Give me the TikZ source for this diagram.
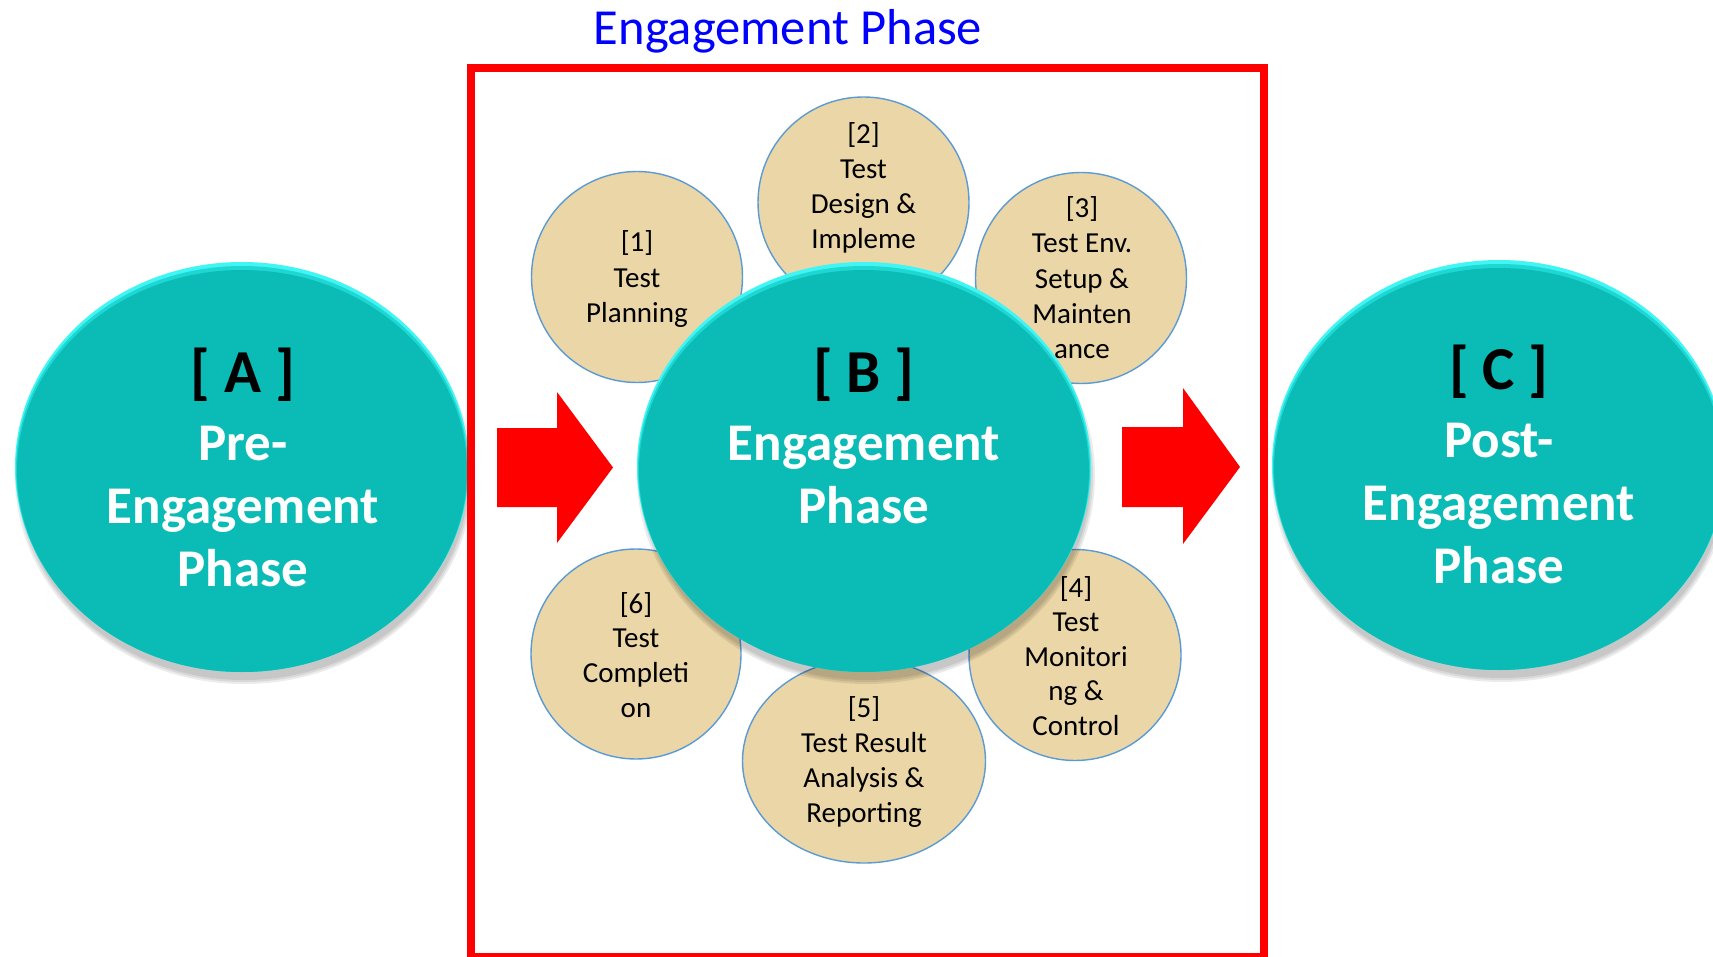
\documentclass[tikz,border=0pt]{standalone}
\usepackage{fontspec}
\setmainfont{Carlito}
\usetikzlibrary{shapes.geometric}
\definecolor{teal0}{RGB}{11,187,182}
\definecolor{tealmid}{RGB}{30,215,210}
\definecolor{rimcyan}{RGB}{64,245,243}
\definecolor{tan0}{RGB}{234,214,166}
\definecolor{tanedge}{RGB}{91,155,213}
\definecolor{titleblue}{RGB}{0,0,255}
\definecolor{framered}{RGB}{255,0,0}
\newcommand\tealball[3]{%
  \foreach \d in {4,2,0} {\fill[black,opacity=0.08] (#2+2,#3+9) ellipse [x radius={225+\d}, y radius={204+\d}];}
  \node[ballrim] (#1) at (#2,#3) {};
  \fill[tealmid] (#2,#3+2) ellipse [x radius=226, y radius=203];
  \fill[teal0] (#2,#3+4) ellipse [x radius=225, y radius=201];
}
\begin{document}
\begin{tikzpicture}[x=1pt,y=-1pt,
  ballrim/.style={ellipse, inner sep=0, minimum width=454, minimum height=410, fill=rimcyan},
  smallc/.style={ellipse, inner sep=0, fill=tan0, draw=tanedge, line width=1.4},
  smalltxt/.style={anchor=base, inner sep=0, font=\fontsize{29}{35}\selectfont, text=black},
  tagtxt/.style={anchor=base, inner sep=0, font=\fontsize{61}{70}\selectfont\bfseries, text=black},
  phasetxt/.style={anchor=base, inner sep=0, font=\fontsize{53}{63}\selectfont\bfseries, text=white},
  titletxt/.style={anchor=base, inner sep=0, font=\fontsize{50.5}{60}\selectfont, text=titleblue},
  blockarrow/.style={fill=framered}]
\useasboundingbox (0,0) rectangle (1713,957);
\clip (0,0) rectangle (1713,957);
\fill[white] (0,0) rectangle (1713,957);

% title
\node[titletxt] (title) at (788,45) {Engagement Phase};

% outer balls
\tealball{A}{242}{467}
\tealball{C}{1499}{465}

% frame
\draw[framered, line width=8] (471,68) rectangle (1264,957);

% block arrows
\coordinate (la) at (497,467.5);
\coordinate (ra) at (1122,467);
\fill[blockarrow] (la) ++(0,-39.5) -- ++(60,0) -- ++(0,-36) -- (613,467.5) -- (557,543) -- (557,507) -- (497,507) -- cycle;
\fill[blockarrow] (ra) ++(0,-40) -- ++(61,0) -- ++(0,-39) -- (1240,467) -- (1183,544) -- (1183,507) -- (1122,507) -- cycle;

% small circles
\node[smallc, minimum width=211, minimum height=211] (c1) at (637,277) {};
\node[smallc, minimum width=211, minimum height=211] (c2) at (863.5,202.5) {};
\node[smallc, minimum width=211, minimum height=211] (c3) at (1081,278) {};
\node[smallc, minimum width=212, minimum height=211] (c4) at (1075,655) {};
\node[smallc, minimum width=243, minimum height=204] (c5) at (864,761) {};
\node[smallc, minimum width=210, minimum height=210] (c6) at (636,654) {};

% small circle texts
\node[smalltxt] (t1a) at (637,252) {[1]};
\node[smalltxt] (t1b) at (637,288) {Test};
\node[smalltxt] (t1c) at (637,323) {Planning};

\node[smalltxt] (t2a) at (863.5,144) {[2]};
\node[smalltxt] (t2b) at (863.5,179) {Test};
\node[smalltxt] (t2c) at (863.5,214) {Design \&};
\node[smalltxt] (t2d) at (863.5,249) {Impleme};

\node[smalltxt] (t3a) at (1082,218) {[3]};
\node[smalltxt] (t3b) at (1082,253) {Test Env.};
\node[smalltxt] (t3c) at (1082,289) {Setup \&};
\node[smalltxt] (t3d) at (1082,324) {Mainten};
\node[smalltxt] (t3e) at (1082,359) {ance};

\node[smalltxt] (t4a) at (1076,597) {[4]};
\node[smalltxt] (t4b) at (1076,631) {Test};
\node[smalltxt] (t4c) at (1076,666) {Monitori};
\node[smalltxt] (t4d) at (1076,700) {ng \&};
\node[smalltxt] (t4e) at (1076,735) {Control};

\node[smalltxt] (t5a) at (864,717) {[5]};
\node[smalltxt] (t5b) at (864,752) {Test Result};
\node[smalltxt] (t5c) at (864,787) {Analysis \&};
\node[smalltxt] (t5d) at (864,822) {Reporting};

\node[smalltxt] (t6a) at (636,613) {[6]};
\node[smalltxt] (t6b) at (636,647) {Test};
\node[smalltxt] (t6c) at (636,682) {Completi};
\node[smalltxt] (t6d) at (636,717) {on};

% central ball
\tealball{B}{864}{467}

% big texts
\node[tagtxt] (ta) at (243,392) {[ A ]};
\node[phasetxt] (ta1) at (243,460) {Pre-};
\node[phasetxt] (ta2) at (243,523) {Engagement};
\node[phasetxt] (ta3) at (243,586) {Phase};

\node[tagtxt] (tb) at (864,392) {[ B ]};
\node[phasetxt] (tb1) at (864,460) {Engagement};
\node[phasetxt] (tb2) at (864,523) {Phase};

\node[tagtxt] (tc) at (1499,389) {[ C ]};
\node[phasetxt] (tc1) at (1499,457) {Post-};
\node[phasetxt] (tc2) at (1499,520) {Engagement};
\node[phasetxt] (tc3) at (1499,583) {Phase};
\end{tikzpicture}
\end{document}
